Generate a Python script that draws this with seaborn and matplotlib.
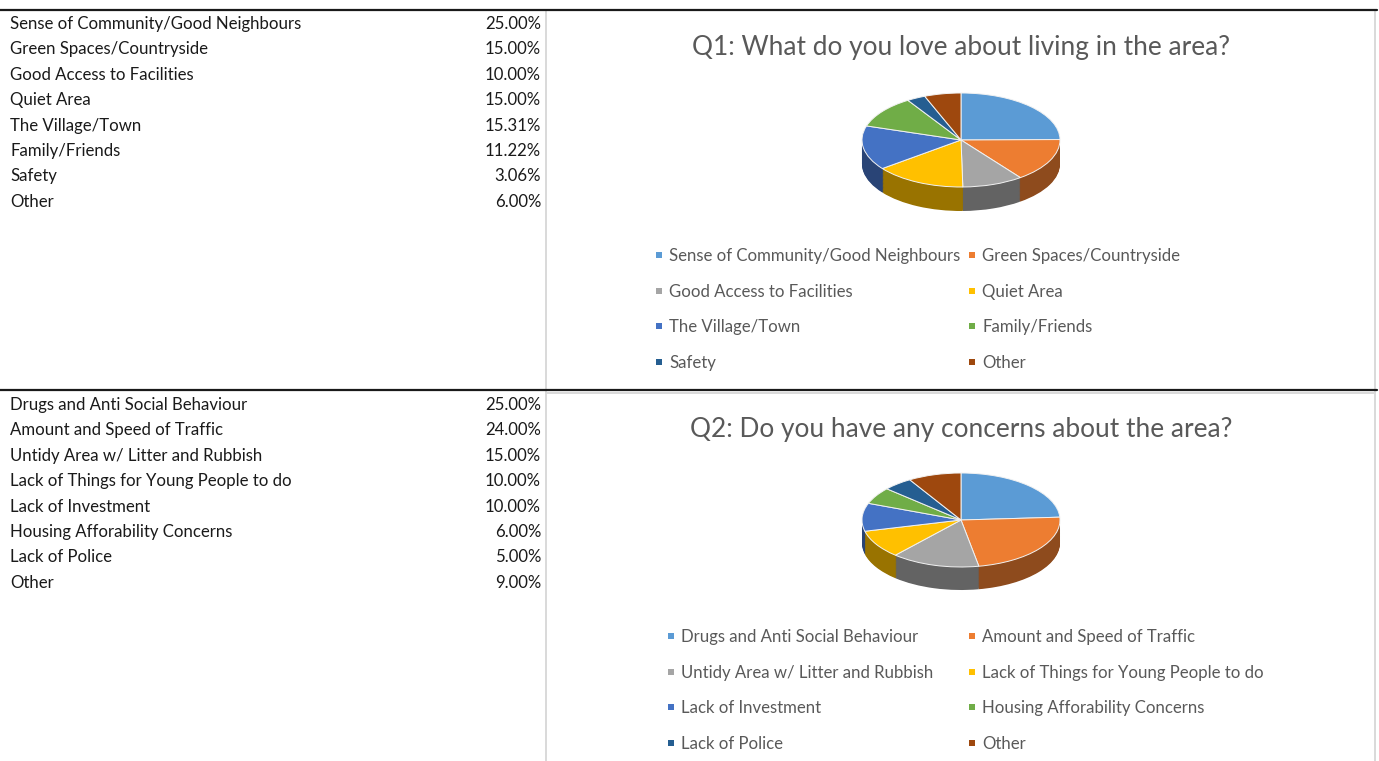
import numpy as np
import pandas as pd
import matplotlib
matplotlib.use("Agg")
import matplotlib.pyplot as plt
import matplotlib.colors as mcolors
import seaborn as sns

# ---------------- data ----------------
q1_title = "Q1: What do you love about living in the area?"
q1_labels = ["Sense of Community/Good Neighbours", "Green Spaces/Countryside",
             "Good Access to Facilities", "Quiet Area", "The Village/Town",
             "Family/Friends", "Safety", "Other"]
q1_values = [25.00, 15.00, 10.00, 15.00, 15.31, 11.22, 3.06, 6.00]

q2_title = "Q2: Do you have any concerns about the area?"
q2_labels = ["Drugs and Anti Social Behaviour", "Amount and Speed of Traffic",
             "Untidy Area w/ Litter and Rubbish", "Lack of Things for Young People to do",
             "Lack of Investment", "Housing Afforability Concerns", "Lack of Police", "Other"]
q2_values = [25.00, 24.00, 15.00, 10.00, 10.00, 6.00, 5.00, 9.00]

office_colors = ["#5B9BD5", "#ED7D31", "#A5A5A5", "#FFC000",
                 "#4472C4", "#70AD47", "#255E91", "#9E480E"]

# ---------------- style ----------------
sns.set_theme(style="white")
plt.rcParams["font.family"] = ["Lato", "DejaVu Sans"]
palette = sns.color_palette(office_colors)

W, H = 1379, 761
fig = plt.figure(figsize=(W / 100, H / 100), dpi=100)
fig.patch.set_facecolor("white")


def ax_px(x0, y0, x1, y1, z=1):
    a = fig.add_axes([x0 / W, 1 - y1 / H, (x1 - x0) / W, (y1 - y0) / H], zorder=z)
    a.set_axis_off()
    return a


# background frame lines
bg = ax_px(0, 0, W, H, z=0)
bg.set_xlim(0, W)
bg.set_ylim(H, 0)
grid_c = "#d9d9d9"
bg.plot([546, 546], [11, H], color=grid_c, lw=1.4)
bg.plot([1375, 1375], [11, H], color=grid_c, lw=1.4)
bg.plot([546, 1375], [393, 393], color=grid_c, lw=1.4)
bg.plot([0, 1377], [10, 10], color="#1a1a1a", lw=1.6)
bg.plot([0, 1377], [390, 390], color="#1a1a1a", lw=1.6)

FS = 12.1
ROW = 25.4


def draw_table(labels, values, y_line, first_off):
    df = pd.DataFrame({"label": labels, "value": values})
    a = ax_px(0, y_line, 546, y_line + 370)
    a.set_xlim(0, 546)
    off = first_off / ROW
    a.set_ylim(370 / ROW - off, -off)
    for i, row in df.iterrows():
        a.text(10, i, row["label"], ha="left", va="center", fontsize=FS, color="#1a1a1a")
        a.text(541, i, f"{row['value']:.2f}%", ha="right", va="center", fontsize=FS, color="#1a1a1a")


def darken(c, f):
    r, g, b = mcolors.to_rgb(c)
    return (r * f, g * f, b * f)


def draw_pie(values, cx, cy, rx, ry, depth):
    x0, x1 = cx - 112, cx + 112
    y0, y1 = cy - ry - 8, cy + ry + depth + 8
    a = ax_px(x0, y0, x1, y1, z=2)
    n = 30
    dunit = depth / ry
    side_cols = [darken(c, 0.6) for c in palette]
    for k in range(n, 0, -1):
        a.pie(values, colors=side_cols, startangle=90, counterclock=False,
              center=(0, -dunit * k / n), radius=1,
              wedgeprops=dict(linewidth=0))
    a.pie(values, colors=palette, startangle=90, counterclock=False,
          center=(0, 0), radius=1,
          wedgeprops=dict(linewidth=0.7, edgecolor="#f2f2f2"))
    a.set_aspect("auto")
    a.set_xlim((x0 - cx) / rx, (x1 - cx) / rx)
    a.set_ylim((cy - y1) / ry, (cy - y0) / ry)


def draw_legend(labels, y0, col_x):
    a = ax_px(600, y0 - 20, 1370, y0 + 130, z=2)
    a.set_xlim(600, 1370)
    a.set_ylim(y0 + 130, y0 - 20)
    sp = 35.6
    for i, lab in enumerate(labels):
        r, c = divmod(i, 2)
        yy = y0 + r * sp
        a.scatter([col_x[c]], [yy - 1], marker="s", s=20, color=palette[i], linewidths=0)
        a.text(col_x[c] + 10, yy, lab, ha="left", va="center", fontsize=FS, color="#595959")


def draw_title(text, y):
    fig.text(961 / W, 1 - y / H, text, ha="center", va="center", fontsize=18.9, color="#595959")


draw_table(q1_labels, q1_values, 10, 14.0)
draw_table(q2_labels, q2_values, 390, 15.0)

draw_title(q1_title, 48)
draw_title(q2_title, 429)

draw_pie(q1_values, 961, 140, 99, 47, 24)
draw_pie(q2_values, 961, 520, 99, 47, 23)

draw_legend(q1_labels, 256, [659, 972])
draw_legend(q2_labels, 637, [671, 972])

fig.savefig("out.png", dpi=100, facecolor="white")
